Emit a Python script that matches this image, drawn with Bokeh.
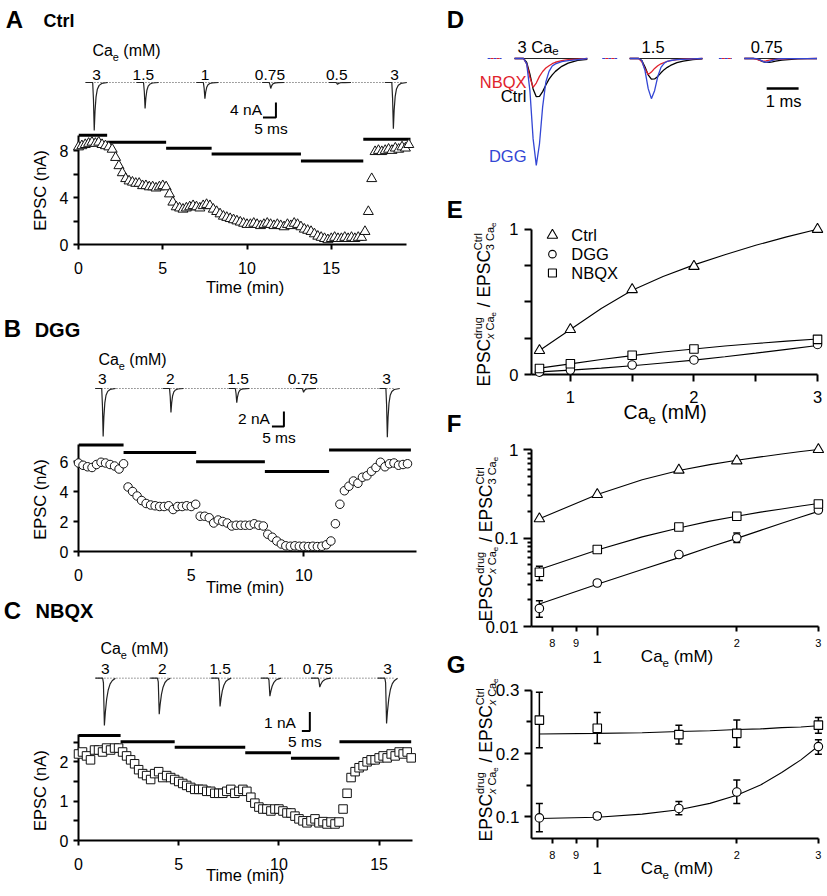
import math
from bokeh.plotting import figure
from bokeh.layouts import row, column
from bokeh.models import Range1d, FixedTicker, ColumnDataSource, Whisker, TeeHead, NumeralTickFormatter
from bokeh.core.properties import value
from bokeh.embed import file_html
from bokeh.resources import INLINE

FONT = "Liberation Sans"
S = 0.998  # reference pixel -> page pixel

# ===================== DATA =====================
# A-C: EPSC amplitude time courses (nA), one sample every 0.2 min
sample_step_min = 0.2
epsc_ctrl_nA = [8.3, 8.4, 8.5, 8.6, 8.7, 8.6, 8.7, 8.5, 8.4, 8.3,
                8.1, 7.4, 6.7, 6.1, 5.6, 5.4, 5.3, 5.2, 5.2, 5.0,
                5.0, 4.9, 4.9, 4.8, 4.9, 5.0, 4.9, 4.3, 3.6, 3.2,
                3.1, 3.0, 3.1, 3.2, 3.3, 3.2, 3.1, 3.3, 3.4, 3.3,
                3.0, 2.8, 2.6, 2.4, 2.3, 2.2, 2.1, 2.0, 1.9, 1.8,
                1.7, 1.7, 1.8, 1.7, 1.6, 1.7, 1.8, 1.7, 1.6, 1.7,
                1.6, 1.5, 1.7, 1.6, 1.8, 1.7, 1.5, 1.3, 1.2, 1.1,
                0.9, 0.7, 0.6, 0.5, 0.4, 0.5, 0.6, 0.5, 0.5, 0.6,
                0.5, 0.6, 0.5, 0.6, 0.6, 1.1, 2.8, 5.6, 7.9, 8.0,
                7.9, 8.0, 8.1, 8.0, 8.2, 8.1, 8.3, 8.2, 8.5]
epsc_dgg_nA = [5.9, 5.75, 5.65, 5.6, 5.8, 5.95, 5.9, 5.8, 5.7, 5.5,
               5.85, 4.3, 4.0, 3.7, 3.4, 3.2, 3.1, 3.05, 3.0, 3.0,
               3.05, 2.8, 3.0, 3.0, 3.05, 3.0, 3.15, 2.35, 2.35, 2.25,
               1.9, 2.1, 2.0, 1.9, 1.7, 1.75, 1.75, 1.75, 1.75, 1.85,
               1.75, 1.7, 1.15, 0.95, 0.7, 0.5, 0.38, 0.35, 0.38, 0.35,
               0.35, 0.33, 0.35, 0.33, 0.35, 0.45, 0.7, 1.85, 3.15, 4.05,
               4.35, 4.7, 4.55, 4.95, 5.05, 5.35, 5.6, 5.95, 5.65, 5.85,
               5.9, 5.75, 5.8, 5.85]
epsc_nbqx_nA = [2.2, 2.25, 2.15, 2.05, 2.3, 2.3, 2.25, 2.35, 2.3, 2.35,
                2.35, 2.25, 2.15, 2.05, 1.95, 1.8, 1.7, 1.65, 1.55, 1.7,
                1.75, 1.6, 1.65, 1.6, 1.55, 1.5, 1.45, 1.4, 1.35, 1.3,
                1.3, 1.3, 1.25, 1.25, 1.2, 1.2, 1.2, 1.25, 1.3, 1.2,
                1.25, 1.3, 1.25, 1.1, 0.95, 0.85, 0.8, 0.8, 0.75, 0.8,
                0.8, 0.75, 0.7, 0.7, 0.62, 0.55, 0.5, 0.45, 0.5, 0.55,
                0.45, 0.48, 0.42, 0.47, 0.42, 0.47, 0.8, 1.2, 1.6, 1.75,
                1.85, 1.9, 2.0, 2.05, 2.05, 2.1, 2.15, 2.1, 2.2, 2.15,
                2.25, 2.2, 2.25, 2.1]

# Ca_e application periods (min) and the level (nA) at which each bar is drawn
ctrl_bar_t0 = [0.0, 1.7, 5.2, 7.9, 13.2, 16.9]
ctrl_bar_t1 = [1.7, 5.2, 7.9, 13.2, 16.9, 19.7]
ctrl_bar_y = [9.3, 8.7, 8.2, 7.7, 7.1, 8.95]
dgg_bar_t0 = [0.0, 2.0, 5.22, 8.27, 11.12]
dgg_bar_t1 = [2.0, 5.22, 8.27, 11.12, 14.75]
dgg_bar_y = [7.1, 6.6, 5.98, 5.33, 6.76]
nbqx_bar_t0 = [0.0, 2.1, 4.8, 8.32, 10.6, 13.02]
nbqx_bar_t1 = [2.1, 4.8, 8.32, 10.6, 13.02, 16.6]
nbqx_bar_y = [2.67, 2.51, 2.37, 2.23, 2.09, 2.51]

# example EPSC traces: Ca_e labels and peak amplitudes (nA)
ctrl_trace_cae = ["3", "1.5", "1", "0.75", "0.5", "3"]
ctrl_trace_amp = [12.8, 6.9, 4.3, 1.6, 0.5, 12.3]
dgg_trace_cae = ["3", "2", "1.5", "0.75", "3"]
dgg_trace_amp = [6.4, 3.2, 1.9, 0.5, 6.5]
nbqx_trace_cae = ["3", "2", "1.5", "1", "0.75", "3"]
nbqx_trace_amp = [2.5, 1.9, 1.5, 0.95, 0.47, 2.4]
# normalised EPSC waveforms (time in ms from onset)
spike_ms = [-3.0, -0.3, 0.0, 0.3, 0.6, 1.0, 1.5, 2.2, 3.2, 5.5]
spike_shape = [0.0, 0.0, -0.35, -1.0, -0.6, -0.3, -0.14, -0.06, -0.02, 0.0]
slow_ms = [-5.0, -0.5, 0.0, 0.6, 1.2, 2.0, 3.0, 4.2, 5.6, 7.5]
slow_shape = [0.0, 0.0, -0.1, -1.0, -0.72, -0.45, -0.25, -0.12, -0.05, 0.0]

# D: superimposed EPSCs at 3, 1.5 and 0.75 mM Ca_e (amplitude rel. to Ctrl at 3 mM)
d_cae = ["3", "1.5", "0.75"]
d_t_ms = [-0.28, -0.05, 0.0, 0.1, 0.2, 0.3, 0.4, 0.5, 0.6, 0.7, 0.8, 0.9, 1.0, 1.2, 1.4, 1.7, 2.0]
d_ctrl_shape = [0, 0, 0, -0.1, -0.4, -0.78, -0.98, -0.97, -0.85, -0.68, -0.53, -0.42, -0.33, -0.2, -0.12, -0.05, -0.02]
d_nbqx_shape = [0, 0, 0, -0.2, -0.65, -1.0, -0.85, -0.62, -0.45, -0.33, -0.25, -0.18, -0.13, -0.07, -0.04, -0.02, 0]
d_dgg_shape = [0, 0, 0, -0.05, -0.3, -0.75, -1.0, -0.8, -0.45, -0.22, -0.12, -0.07, -0.05, -0.03, -0.02, -0.01, 0]
d_amp_ctrl = [1.0, 0.54, 0.10]
d_amp_nbqx = [0.74, 0.41, 0.07]
d_amp_dgg = [2.74, 1.03, 0.10]

# E-G: dose dependence
ca_mM = [0.75, 1.0, 1.5, 2.0, 3.0]
ctrl_norm = [0.165, 0.31, 0.585, 0.745, 1.0]
dgg_norm = [0.016, 0.031, 0.065, 0.100, 0.207]
dgg_norm_lo = [0.0127, 0.029, 0.061, 0.089, 0.197]
dgg_norm_hi = [0.0195, 0.033, 0.069, 0.114, 0.217]
nbqx_norm = [0.041, 0.074, 0.133, 0.176, 0.242]
nbqx_norm_lo = [0.033, 0.069, 0.126, 0.168, 0.233]
nbqx_norm_hi = [0.048, 0.079, 0.140, 0.184, 0.251]
fit_ca = [0.75, 1.0, 1.25, 1.5, 1.75, 2.0, 2.25, 2.5, 2.75, 3.0]
fit_ctrl = [0.165, 0.31, 0.455, 0.58, 0.675, 0.755, 0.825, 0.89, 0.948, 1.0]
fit_nbqx = [0.044, 0.073, 0.103, 0.13, 0.155, 0.176, 0.196, 0.213, 0.23, 0.245]
fit_dgg = [0.018, 0.030, 0.044, 0.060, 0.079, 0.099, 0.122, 0.147, 0.173, 0.20]
ratio_nbqx = [0.253, 0.240, 0.230, 0.232, 0.245]
ratio_nbqx_lo = [0.209, 0.216, 0.215, 0.210, 0.232]
ratio_nbqx_hi = [0.297, 0.265, 0.245, 0.253, 0.257]
ratio_dgg = [0.098, 0.101, 0.113, 0.139, 0.211]
ratio_dgg_lo = [0.076, 0.096, 0.103, 0.121, 0.199]
ratio_dgg_hi = [0.121, 0.106, 0.124, 0.158, 0.222]
fitg_nbqx = [0.231, 0.232, 0.233, 0.235, 0.236, 0.238, 0.239, 0.241, 0.242, 0.244]
fitg_dgg = [0.097, 0.099, 0.104, 0.111, 0.121, 0.134, 0.150, 0.170, 0.19, 0.212]

# ===================== HELPERS =====================
def P(v):
    return int(round(v * S))


def FS(v):
    return "%.1fpx" % (v * S)


CW = {' ': 278, '(': 333, ')': 333, '/': 278, '.': 278, 'A': 667, 'B': 667, 'C': 722,
      'D': 722, 'E': 667, 'G': 778, 'M': 833, 'N': 722, 'P': 667, 'Q': 778, 'S': 667,
      'X': 667, 'a': 556, 'd': 556, 'e': 556, 'g': 556, 'i': 222, 'l': 222, 'm': 833,
      'n': 556, 'r': 333, 's': 500, 't': 278, 'u': 556, 'x': 500}


def tw(s, size):
    return sum(CW.get(c, 556) for c in s) * size / 1000.0


MID = 0.35  # distance from baseline to the "middle" anchor, in font sizes
LETTER = 24


class Panel:
    def __init__(self, box, frame, xr, yr, xlog=False, ylog=False, axes=True):
        self.box, self.frame, self.xr, self.yr = box, frame, xr, yr
        self.xlog, self.ylog = xlog, ylog
        x0, y0, x1, y1 = box
        fx0, fy0, fx1, fy1 = frame
        kw = {}
        if not axes:
            kw.update(x_axis_location=None, y_axis_location=None)
        p = figure(width=P(x1) - P(x0), height=P(y1) - P(y0),
                   x_range=Range1d(*xr), y_range=Range1d(*yr),
                   x_axis_type="log" if xlog else "linear",
                   y_axis_type="log" if ylog else "linear",
                   toolbar_location=None, output_backend="svg", title=None,
                   min_border_left=P(fx0) - P(x0), min_border_right=P(x1) - P(fx1),
                   min_border_top=P(fy0) - P(y0), min_border_bottom=P(y1) - P(fy1), **kw)
        p.outline_line_color = None
        p.background_fill_color = "white"
        p.border_fill_color = "white"
        p.xgrid.visible = False
        p.ygrid.visible = False
        self.p = p

    @staticmethod
    def _map(v, a0, a1, r, log):
        f = (v - a0) / float(a1 - a0)
        if log:
            l0, l1 = math.log10(r[0]), math.log10(r[1])
            return 10 ** (l0 + f * (l1 - l0))
        return r[0] + f * (r[1] - r[0])

    def X(self, X):
        return self._map(X, self.frame[0], self.frame[2], self.xr, self.xlog)

    def Y(self, Y):
        return self._map(Y, self.frame[3], self.frame[1], self.yr, self.ylog)

    def text(self, X, Y, s, size, color="black", align="left", baseline="alphabetic",
             bold=False, italic=False, angle=0.0):
        # (X, Y) is the text baseline point in reference pixels; anchor on the middle
        if baseline == "alphabetic":
            if angle:
                X = X - MID * size
            else:
                Y = Y - MID * size
        style = "bold" if bold else ("italic" if italic else "normal")
        self.p.text(x=[self.X(X)], y=[self.Y(Y)], text=[s], text_font=value(FONT),
                    text_font_size=value(FS(size)), text_color=color, text_align=align,
                    text_baseline="middle", text_font_style=style, angle=angle, level="overlay")

    def rich(self, X, Y, parts, vertical=False, align="left", color="black"):
        total = sum(tw(t, sz) for t, sz, sh, adv, it in parts if adv)
        pen = {"left": 0.0, "center": -total / 2.0, "right": -total}[align]
        for t, sz, sh, adv, it in parts:
            lead = len(t) - len(t.lstrip(" "))
            off = lead * tw(" ", sz)
            s = t.strip(" ")
            if vertical:
                self.text(X - sh, Y - pen - off, s, sz, italic=it, angle=math.pi / 2, color=color)
            else:
                self.text(X + pen + off, Y - sh, s, sz, italic=it, color=color)
            if adv:
                pen += tw(t, sz)


def cae_parts(size, prefix="", suffix=" (mM)"):
    return [(prefix + "Ca", size, 0, True, False), ("e", size * 0.68, -size * 0.26, True, False),
            (suffix, size, 0, True, False)]


def style_axis(ax, ticks, minor=(), out=5, minor_out=None, size=16, standoff=6, bounds=None):
    ax.ticker = FixedTicker(ticks=list(ticks), minor_ticks=list(minor))
    ax.axis_line_width = 2
    ax.axis_line_color = "black"
    ax.major_tick_line_width = 2
    ax.minor_tick_line_width = 2
    ax.major_tick_out = out
    ax.major_tick_in = 0
    ax.minor_tick_out = out if minor_out is None else minor_out
    ax.minor_tick_in = 0
    ax.major_label_text_font = FONT
    ax.major_label_text_font_size = FS(size)
    ax.major_label_text_color = "black"
    ax.major_label_standoff = standoff
    ax.axis_label = None
    if bounds is not None:
        ax.bounds = bounds


def time_course(spec):
    box, frame, px_min, px_nA = spec["box"], spec["frame"], spec["px_min"], spec["px_nA"]
    x_end = (frame[2] - frame[0]) / px_min
    y_end = (frame[3] - frame[1]) / px_nA
    pn = Panel(box, frame, (0, x_end), (0, y_end))
    p = pn.p
    vals = spec["vals"]
    t = [round(i * sample_step_min, 2) for i in range(len(vals))]
    # extra ranges for the example traces (ms, nA)
    tms, tnA = spec["trace_px_ms"], spec["trace_px_nA"]
    base_Y = spec["base_Y"]
    p.extra_x_ranges = {"ms": Range1d(0, (frame[2] - frame[0]) / tms)}
    p.extra_y_ranges = {"tr": Range1d(-(frame[3] - base_Y) / tnA, (base_Y - frame[1]) / tnA)}

    def ms(X):
        return (X - frame[0]) / tms

    p.line([ms(spec["strip"][0]), ms(spec["strip"][1])], [0, 0], x_range_name="ms", y_range_name="tr",
           line_color="#444444", line_width=1, line_dash="1 2")
    xs, ys = [], []
    for X, amp in zip(spec["trace_X"], spec["amps"]):
        xs.append([ms(X) + v for v in spec["tpl_t"]])
        ys.append([amp * v for v in spec["tpl_v"]])
    p.multi_line(xs, ys, x_range_name="ms", y_range_name="tr", line_color="#222222", line_width=1.2)
    for X, lab in zip(spec["label_X"], spec["cae"]):
        pn.text(X, spec["label_base"], lab, 15.5, align="center")
    # scale bars
    sbX, sbY = spec["sb"]
    sb_nA = -(sbY - base_Y) / tnA
    p.line([ms(sbX) - 5, ms(sbX), ms(sbX)], [sb_nA, sb_nA, sb_nA + spec["sb_nA"]],
           x_range_name="ms", y_range_name="tr", line_color="black", line_width=2)
    pn.text(sbX - 14, sbY - 3, "%d nA" % spec["sb_nA"], 15.5, align="right")
    pn.text(sbX - 5, sbY + 16, "5 ms", 15.5, align="center")
    # Ca label and panel titles
    pn.rich(spec["ca_lab"][0], spec["ca_lab"][1], cae_parts(16))
    pn.text(spec["letter"][0], spec["letter"][1], spec["letter"][2], LETTER, bold=True)
    pn.text(spec["name"][0], spec["name"][1], spec["name"][2], spec["name"][3], bold=True)
    # bars
    p.segment(spec["bars"][0], spec["bars"][2], spec["bars"][1], spec["bars"][2],
              line_color="black", line_width=3)
    # points
    p.scatter(t, vals, marker=spec["marker"], size=spec["msize"], fill_color="white",
              line_color="#111111", line_width=1, level="overlay")
    # axes
    style_axis(p.xaxis[0], spec["xticks"], out=5, size=16, standoff=12, bounds=(0, spec["xbound"]))
    style_axis(p.yaxis[0], spec["yticks"], minor=spec["yminor"], out=5, size=16, standoff=5,
               bounds=(0, spec["ybound"]))
    pn.text(245, spec["xlab_Y"], "Time (min)", 16.5, align="center")
    pn.text(45, spec["ylab_Y"], "EPSC (nA)", 16.5, align="center", angle=math.pi / 2)
    return p


A = time_course(dict(box=(0, 0, 425, 300), frame=(78, 0, 425, 244), px_min=16.9, px_nA=11.75,
                     vals=epsc_ctrl_nA, trace_px_ms=2.6, trace_px_nA=3.75, base_Y=82, strip=(85, 402),
                     trace_X=[93, 144, 204, 270, 337, 393], amps=ctrl_trace_amp,
                     tpl_t=spike_ms, tpl_v=spike_shape, label_X=[96, 143, 205, 270, 337, 395],
                     cae=ctrl_trace_cae, label_base=80, sb=(276, 117), sb_nA=4,
                     ca_lab=(92, 56), letter=(5, 27, "A"), name=(43, 27, "Ctrl", 18),
                     bars=(ctrl_bar_t0, ctrl_bar_t1, ctrl_bar_y), marker="triangle", msize=10,
                     xticks=[0, 5, 10, 15], yticks=[0, 4, 8], yminor=[2, 6], xbound=19.47, ybound=9.3,
                     xlab_Y=292, ylab_Y=190))
B = time_course(dict(box=(0, 300, 425, 597), frame=(78, 300, 425, 552), px_min=22.6, px_nA=15.0,
                     vals=epsc_dgg_nA, trace_px_ms=2.4, trace_px_nA=7.5, base_Y=389, strip=(95, 395),
                     trace_X=[102, 170, 236, 303, 387], amps=dgg_trace_amp,
                     tpl_t=spike_ms, tpl_v=spike_shape, label_X=[102, 170, 238, 303, 387],
                     cae=dgg_trace_cae, label_base=385, sb=(284, 427), sb_nA=2,
                     ca_lab=(98, 366), letter=(3, 337, "B"), name=(34, 337, "DGG", 20),
                     bars=(dgg_bar_t0, dgg_bar_t1, dgg_bar_y), marker="circle", msize=8.5,
                     xticks=[0, 5, 10], yticks=[0, 2, 4, 6], yminor=[], xbound=15.0, ybound=7.13,
                     xlab_Y=593, ylab_Y=500))
C = time_course(dict(box=(0, 597, 425, 896), frame=(78, 597, 425, 842), px_min=20.1, px_nA=39.5,
                     vals=epsc_nbqx_nA, trace_px_ms=1.6, trace_px_nA=19.0, base_Y=679, strip=(95, 395),
                     trace_X=[103, 158, 219, 269, 319, 386], amps=nbqx_trace_amp,
                     tpl_t=slow_ms, tpl_v=slow_shape, label_X=[105, 162, 220, 272, 318, 388],
                     cae=nbqx_trace_cae, label_base=675, sb=(310, 732), sb_nA=1,
                     ca_lab=(100, 655), letter=(3, 619, "C"), name=(35, 619, "NBQX", 20),
                     bars=(nbqx_bar_t0, nbqx_bar_t1, nbqx_bar_y), marker="square", msize=8.5,
                     xticks=[0, 5, 10, 15], yticks=[0, 1, 2], yminor=[0.5, 1.5, 2.5], xbound=16.67,
                     ybound=2.7, xlab_Y=882, ylab_Y=792))

# ===================== D =====================
RED, BLUE = "#e0222c", "#3346d4"
FL = 532  # common left frame edge of the right-hand column
D = Panel((425, 0, 827, 192), (FL, 0, 827, 192), ((FL - 425) / 32.0, 402 / 32.0),
          (-(192 - 58) / 39.0, 58 / 39.0), axes=False)
pd = D.p
onsets_X = [524, 639.5, 754.5]
pd.multi_line([[D.X(X) + d_t_ms[0], D.X(X) + d_t_ms[-1]] for X in onsets_X], [[0, 0]] * 3,
              line_color="#222222", line_width=1, level="overlay")
stubs = [(488, 502), (603, 618), (720, 733)]
pd.multi_line([[D.X(a), D.X(b)] for a, b in stubs], [[0, 0]] * 3, line_color=BLUE, line_width=1.2,
              line_dash="3 3", level="overlay")
pd.multi_line([[D.X(a), D.X(b)] for a, b in stubs], [[0, 0]] * 3, line_color=RED, line_width=1.2,
              line_dash="3 3", line_dash_offset=3, level="overlay")
for shape, amps, col in [(d_ctrl_shape, d_amp_ctrl, "black"), (d_nbqx_shape, d_amp_nbqx, RED),
                         (d_dgg_shape, d_amp_dgg, BLUE)]:
    xs = [[D.X(X) + t for t in d_t_ms] for X in onsets_X]
    ys = [[a * v for v in shape] for a in amps]
    pd.multi_line(xs, ys, line_color=col, line_width=1.3, level="overlay")
D.rich(518, 52, [("3 Ca", 16.5, 0, True, False), ("e", 11.5, -3, True, False)])
D.text(654, 52, d_cae[1], 16.5, align="center")
D.text(768, 52, d_cae[2], 16.5, align="center")
D.text(527, 87, "NBQX", 16.5, color=RED, align="right")
D.text(527, 101, "Ctrl", 16.5, align="right")
D.text(527, 161, "DGG", 16.5, color=BLUE, align="right")
pd.line([D.X(768), D.X(768) + 1.0], [D.Y(88), D.Y(88)], line_color="black", line_width=2.5)
D.text(785, 106, "1 ms", 16.5, align="center")
D.text(447, 27, "D", LETTER, bold=True)


# ===================== E, F, G =====================
def ylabel_parts(sub2_x):
    sub2 = [("x", 11, -4, True, True), (" Ca", 11, -4, True, False)] if sub2_x else [("3 Ca", 11, -4, True, False)]
    return ([("EPSC", 17.5, 0, True, False), ("drug", 11, 7.5, False, False),
             ("x", 11, -4, True, True), (" Ca", 11, -4, True, False), ("e", 8, -6.5, True, False),
             (" / EPSC", 17.5, 0, True, False), ("Ctrl", 11, 7.5, False, False)]
            + sub2 + [("e", 8, -6.5, True, False)])


def open_markers(p, x, ys_list):
    for y, marker, size in ys_list:
        p.scatter(x, y, marker=marker, size=size, fill_color="white", line_color="black",
                  line_width=1.1, level="overlay")


def whiskers(p, x, lo, hi):
    src = ColumnDataSource(dict(x=x, lo=lo, hi=hi))
    p.add_layout(Whisker(source=src, base="x", lower="lo", upper="hi", dimension="height",
                         line_color="black", line_width=1.5,
                         upper_head=TeeHead(size=7, line_width=1.5, line_color="black"),
                         lower_head=TeeHead(size=7, line_width=1.5, line_color="black")))


# E
E = Panel((425, 192, 827, 439), (FL, 192, 827, 375),
          (1 + (FL - 571) / 124.0, 1 + (827 - 571) / 124.0), (0, (375 - 192) / 146.0))
pe = E.p
for fit in (fit_ctrl, fit_nbqx, fit_dgg):
    pe.line(fit_ca, fit, line_color="black", line_width=1.1)
whiskers(pe, ca_mM, nbqx_norm_lo, nbqx_norm_hi)
whiskers(pe, ca_mM, dgg_norm_lo, dgg_norm_hi)
open_markers(pe, ca_mM, [(ctrl_norm, "triangle", 10.5), (dgg_norm, "circle", 8.5), (nbqx_norm, "square", 8.5)])
style_axis(pe.xaxis[0], [1, 2, 3], minor=[1.5, 2.5], out=7, size=16.5, standoff=9, bounds=(E.xr[0], 3))
style_axis(pe.yaxis[0], [0, 1], minor=[0.25, 0.5, 0.75], out=7, size=16.5, standoff=6, bounds=(0, 1))
leg = [("Ctrl", "triangle", 10.5, 235), ("DGG", "circle", 7.5, 254), ("NBQX", "square", 8, 273)]
pe.scatter([E.X(553)] * 3, [E.Y(v[3]) for v in leg], marker=[v[1] for v in leg],
           size=[v[2] for v in leg], fill_color="white", line_color="black", line_width=1.1)
for name, mk, sz, Y in leg:
    E.text(572, Y, name, 16.5, baseline="middle")
E.rich(666, 420, cae_parts(19.5), align="center")
E.rich(490, 387, ylabel_parts(False), vertical=True)
E.text(447, 217, "E", LETTER, bold=True)
E.text(447, 433, "F", LETTER, bold=True)

# F
xr_log = (10 ** ((FL - 598) / 465.0), 10 ** ((827 - 598) / 465.0))
F = Panel((425, 439, 827, 679), (FL, 439, 827, 627), xr_log,
          (0.01, 10 ** ((450 - 439) / 88.5)), xlog=True, ylog=True)
pf = F.p
for fit in (fit_ctrl, fit_nbqx, fit_dgg):
    pf.line(fit_ca, fit, line_color="black", line_width=1.1)
whiskers(pf, ca_mM, nbqx_norm_lo, nbqx_norm_hi)
whiskers(pf, ca_mM, dgg_norm_lo, dgg_norm_hi)
open_markers(pf, ca_mM, [(ctrl_norm, "triangle", 10.5), (dgg_norm, "circle", 8.5), (nbqx_norm, "square", 8.5)])
style_axis(pf.xaxis[0], [0.8, 0.9, 2, 3], minor=[1], out=5, minor_out=9, size=11, standoff=3,
           bounds=(xr_log[0], 3))
pf.xaxis[0].major_label_overrides = {0.8: "8", 0.9: "9", 2: "2", 3: "3"}
minor_f = [0.02, 0.03, 0.04, 0.05, 0.06, 0.07, 0.08, 0.09, 0.2, 0.3, 0.4, 0.5, 0.6, 0.7, 0.8, 0.9]
style_axis(pf.yaxis[0], [0.01, 0.1, 1], minor=minor_f, out=8, minor_out=4, size=17, standoff=5,
           bounds=(0.01, 1))
pf.yaxis[0].formatter = NumeralTickFormatter(format="0.[00]")
F.text(598, 663, "1", 17, align="center")
F.rich(678, 663, cae_parts(17), align="center")
F.rich(492, 622, ylabel_parts(False), vertical=True)
F.text(447, 673, "G", LETTER, bold=True)

# G
G = Panel((425, 679, 827, 896), (FL, 679, 827, 840), xr_log,
          (0.3 - (840 - 691) / 635.0, 0.3 + (691 - 679) / 635.0), xlog=True)
pg = G.p
pg.line(fit_ca, fitg_nbqx, line_color="black", line_width=1.1)
pg.line(fit_ca, fitg_dgg, line_color="black", line_width=1.1)
whiskers(pg, ca_mM, ratio_nbqx_lo, ratio_nbqx_hi)
whiskers(pg, ca_mM, ratio_dgg_lo, ratio_dgg_hi)
open_markers(pg, ca_mM, [(ratio_dgg, "circle", 8.5), (ratio_nbqx, "square", 8.5)])
style_axis(pg.xaxis[0], [0.8, 0.9, 2, 3], minor=[1], out=5, minor_out=9, size=11, standoff=3,
           bounds=(xr_log[0], 3))
pg.xaxis[0].major_label_overrides = {0.8: "8", 0.9: "9", 2: "2", 3: "3"}
style_axis(pg.yaxis[0], [0.1, 0.2, 0.3], minor=[0.15, 0.25], out=7, minor_out=5, size=17, standoff=5,
           bounds=(G.yr[0], 0.3))
G.text(598, 876, "1", 17, align="center")
G.rich(678, 876, cae_parts(17), align="center")
G.rich(492, 843, ylabel_parts(True), vertical=True)

layout = row(column(A, B, C), column(pd, pe, pf, pg))
open("out.html", "w").write(file_html(layout, INLINE))
